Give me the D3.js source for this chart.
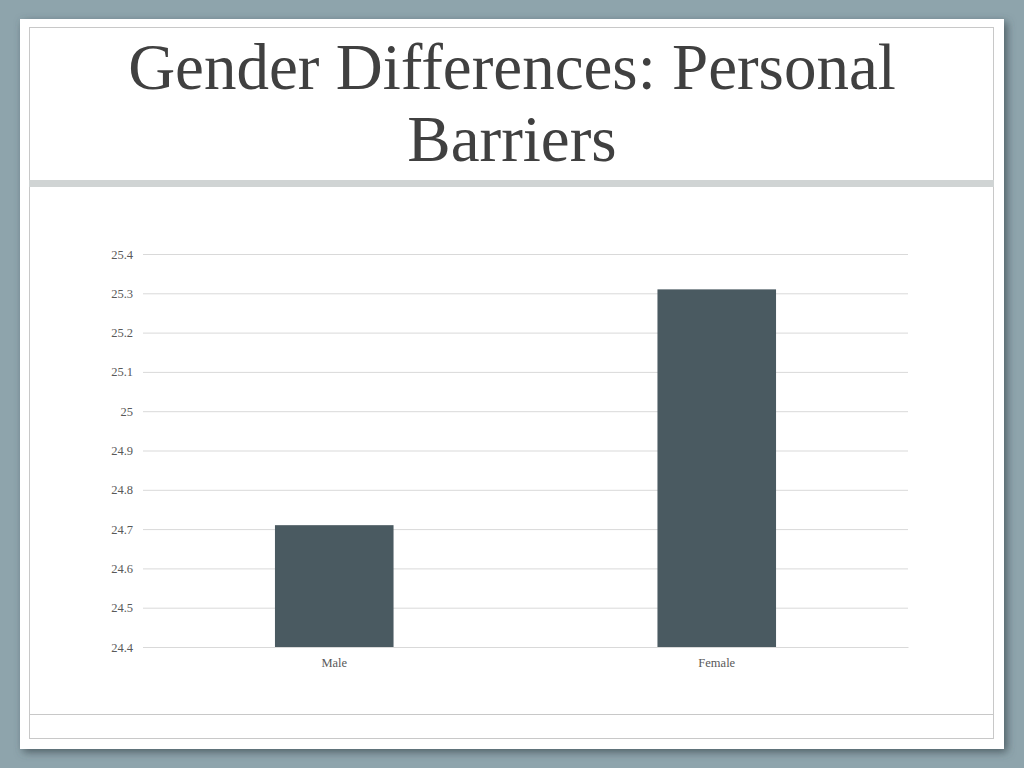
<!DOCTYPE html>
<html>
<head>
<meta charset="utf-8">
<script src="https://cdn.jsdelivr.net/npm/d3@7"></script>
<style>
  html, body { margin: 0; padding: 0; background: #8ea4ac; }
  svg { display: block; }
</style>
</head>
<body>
<svg id="chart" width="1024" height="768"></svg>
<script>
const titleLines = ["Gender Differences: Personal", "Barriers"];
const categories = ["Male", "Female"];
const values = [24.71, 25.31];
const yTicks = [24.4, 24.5, 24.6, 24.7, 24.8, 24.9, 25, 25.1, 25.2, 25.3, 25.4];
const yDomain = [24.4, 25.4];

(function () {
const svg = d3.select("#chart");

const defs = svg.append("defs");
const f = defs.append("filter").attr("id", "shadow").attr("x", "-5%").attr("y", "-5%").attr("width", "110%").attr("height", "110%");
f.append("feDropShadow").attr("dx", 3).attr("dy", 3).attr("stdDeviation", 4).attr("flood-color", "#3c4e55").attr("flood-opacity", 0.8);

svg.append("rect").attr("x", 0).attr("y", 0).attr("width", 1024).attr("height", 768).attr("fill", "#8ea4ac");
svg.append("rect").attr("x", 20).attr("y", 19).attr("width", 984).attr("height", 730)
  .attr("fill", "#ffffff").attr("filter", "url(#shadow)");
svg.append("rect").attr("x", 29.5).attr("y", 27.5).attr("width", 964).attr("height", 711)
  .attr("fill", "none").attr("stroke", "#c8c8c8").attr("stroke-width", 1);
svg.append("rect").attr("x", 29).attr("y", 180).attr("width", 965).attr("height", 7).attr("fill", "#d0d4d4");
svg.append("line").attr("x1", 29).attr("x2", 994).attr("y1", 714.5).attr("y2", 714.5)
  .attr("stroke", "#c8c8c8").attr("stroke-width", 1);

const title = svg.append("text").attr("text-anchor", "middle")
  .attr("font-family", "'Liberation Serif', 'DejaVu Serif', serif")
  .attr("font-size", 65).attr("fill", "#404040");
titleLines.forEach((t, i) => {
  title.append("tspan").attr("x", 512).attr("y", 89 + i * 72).text(t);
});

const mLeft = 143, mRight = 908, mTop = 254, mBottom = 647;
const x = d3.scaleBand().domain(categories).range([mLeft, mRight]).paddingInner(0.69).paddingOuter(0.345);
const y = d3.scaleLinear().domain(yDomain).range([mBottom, mTop]);

const yAxis = d3.axisLeft(y).tickValues(yTicks).tickSize(-(mRight - mLeft)).tickPadding(10).tickFormat(d3.format("~g"));
const gy = svg.append("g").attr("transform", `translate(${mLeft},0)`).call(yAxis);
gy.select(".domain").remove();
gy.selectAll(".tick line").attr("stroke", "#d9d9d9").attr("stroke-width", 1);
gy.selectAll(".tick text").attr("font-family", "'Liberation Serif', serif").attr("font-size", 12.5).attr("fill", "#595959");

svg.append("g").selectAll("rect").data(categories).join("rect")
  .attr("x", d => x(d))
  .attr("width", x.bandwidth())
  .attr("y", (d, i) => y(values[i]))
  .attr("height", (d, i) => y(yDomain[0]) - y(values[i]))
  .attr("fill", "#4a5a61");

const xAxis = d3.axisBottom(x).tickSize(0).tickPadding(11);
const gx = svg.append("g").attr("transform", `translate(0,${mBottom})`).call(xAxis);
gx.select(".domain").attr("stroke", "#d9d9d9");
gx.selectAll(".tick text").attr("font-family", "'Liberation Serif', serif").attr("font-size", 12.5).attr("fill", "#595959");
})();
</script>
</body>
</html>
